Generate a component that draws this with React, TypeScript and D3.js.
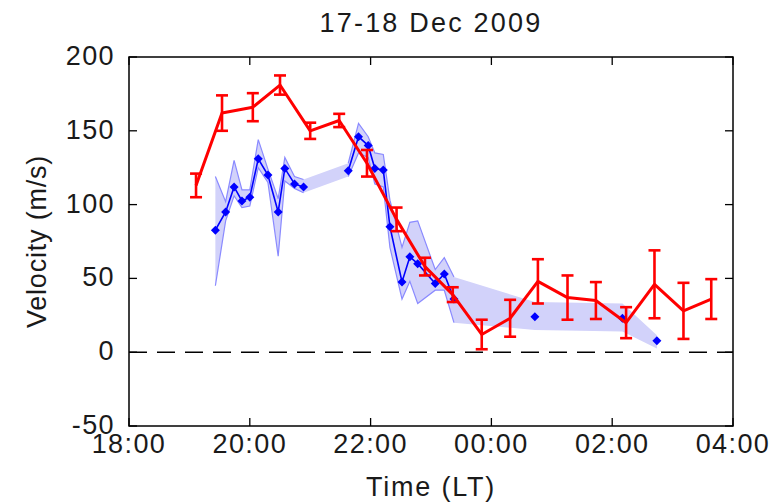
import React from "react";
import * as d3 from "d3";

// ---- data ----
const redTime = [19.11, 19.54, 20.05, 20.5, 21.0, 21.48, 21.94, 22.43, 22.9, 23.36, 23.84, 24.31, 24.77, 25.26, 25.73, 26.23, 26.7, 27.18, 27.64];
const redVel = [113, 162, 166, 181, 150, 157, 128, 90, 58, 39, 12, 23, 48, 37, 35, 20, 46, 28, 36];
const redErr = [8, 12, 9.5, 6.5, 5.5, 4.5, 9, 8, 6, 5, 10, 12.5, 15, 15, 12.5, 10.5, 23, 19, 13.5];

const blueTime = [19.43, 19.6, 19.74, 19.87, 20.0, 20.14, 20.3, 20.47, 20.58, 20.74, 20.89, 21.63, 21.8, 21.96, 22.07, 22.21, 22.32, 22.52, 22.65, 22.78, 23.07, 23.22, 23.38, 24.72, 26.17, 26.74];
const blueVel = [82.7, 95, 112, 102.5, 105, 131, 120, 95, 124.5, 114, 112, 123, 146, 140, 124.5, 123.5, 85, 47.6, 64.6, 60, 46.5, 53, 36, 24, 23, 7.7];
const blueLow = [45, 89, 106, 98, 99, 125, 115, 65, 116, 111, 108, 119, 135, 132, 114, 112, 71, 36, 48, 33, 42, 42, 20, 15, 14, 2.5];
const blueHigh = [119, 102, 130, 110, 110, 144, 124, 104, 132, 119, 117, 128, 155, 146, 135, 134, 103, 71, 88, 89, 56, 64, 51, 34, 33, 11.5];

const xTicks = [18, 20, 22, 24, 26, 28];
const xTickLabels = ["18:00", "20:00", "22:00", "00:00", "02:00", "04:00"];
const yTicks = [-50, 0, 50, 100, 150, 200];

const W = 781;
const H = 503;
const L = 129, R = 733, T = 57, B = 426;
const FONT = "'Liberation Sans', Arial, sans-serif";
const FS = 27;
const LS = 1.4;

function segments(idx: number[], times: number[], gap: number): number[][] {
  const segs: number[][] = [];
  let cur: number[] = [];
  idx.forEach((i, k) => {
    if (k > 0 && times[i] - times[idx[k - 1]] > gap) {
      segs.push(cur);
      cur = [];
    }
    cur.push(i);
  });
  if (cur.length) segs.push(cur);
  return segs;
}

export default function App() {
  const x = d3.scaleLinear().domain([18, 28]).range([L, R]);
  const y = d3.scaleLinear().domain([-50, 200]).range([B, T]);

  const idx = blueTime.map((_, i) => i);
  const band = d3
    .area<number>()
    .x((i) => x(blueTime[i]))
    .y0((i) => y(blueLow[i]))
    .y1((i) => y(blueHigh[i]))(idx) as string;

  const segs = segments(idx, blueTime, 0.4);
  const lineOf = (arr: number[]) =>
    d3
      .line<number>()
      .x((i) => x(blueTime[i]))
      .y((i) => y(arr[i]));

  const redIdx = redTime.map((_, i) => i);
  const redLine = d3
    .line<number>()
    .x((i) => x(redTime[i]))
    .y((i) => y(redVel[i]))(redIdx) as string;

  const tick = 8;
  const cap = 6;
  const textProps = { fontFamily: FONT, fontSize: FS, fill: "#1a1a1a", letterSpacing: LS };

  return (
    <svg width={W} height={H} style={{ position: "absolute", left: 0, top: 0, background: "#fff" }}>
      <rect x={0} y={0} width={W} height={H} fill="#fff" />
      {/* band */}
      <path d={band} fill="#d2d2fa" stroke="none" />
      {segs.map((s, k) => (
        <g key={"bo" + k}>
          <path d={lineOf(blueHigh)(s) as string} fill="none" stroke="#8a8aff" strokeWidth={1.2} />
          <path d={lineOf(blueLow)(s) as string} fill="none" stroke="#8a8aff" strokeWidth={1.2} />
          <path d={lineOf(blueVel)(s) as string} fill="none" stroke="#0000ff" strokeWidth={1.6} />
        </g>
      ))}
      {idx.map((i) => (
        <path
          key={"m" + i}
          transform={`translate(${x(blueTime[i])},${y(blueVel[i])})`}
          d="M0,-4.5L4.5,0L0,4.5L-4.5,0Z"
          fill="#0000ff"
        />
      ))}
      {/* zero line */}
      <line x1={L} x2={R} y1={y(0)} y2={y(0)} stroke="#000" strokeWidth={1.5} strokeDasharray="18 10" />
      {/* red */}
      <path d={redLine} fill="none" stroke="#ff0000" strokeWidth={3} strokeLinejoin="round" />
      {redIdx.map((i) => {
        const cx = x(redTime[i]);
        const y1 = y(redVel[i] + redErr[i]);
        const y2 = y(redVel[i] - redErr[i]);
        return (
          <g key={"e" + i} stroke="#ff0000" strokeWidth={2.6}>
            <line x1={cx} x2={cx} y1={y1} y2={y2} />
            <line x1={cx - cap} x2={cx + cap} y1={y1} y2={y1} />
            <line x1={cx - cap} x2={cx + cap} y1={y2} y2={y2} />
          </g>
        );
      })}
      {/* axes box */}
      <rect x={L} y={T} width={R - L} height={B - T} fill="none" stroke="#000" strokeWidth={1.5} />
      {xTicks.map((t, k) => (
        <g key={"xt" + k}>
          <line x1={x(t)} x2={x(t)} y1={B} y2={B - tick} stroke="#000" strokeWidth={1.3} />
          <line x1={x(t)} x2={x(t)} y1={T} y2={T + tick} stroke="#000" strokeWidth={1.3} />
          <text x={x(t)} y={B + 27} textAnchor="middle" {...textProps}>
            {xTickLabels[k]}
          </text>
        </g>
      ))}
      {yTicks.map((v, k) => (
        <g key={"yt" + k}>
          <line x1={L} x2={L + tick} y1={y(v)} y2={y(v)} stroke="#000" strokeWidth={1.3} />
          <line x1={R} x2={R - tick} y1={y(v)} y2={y(v)} stroke="#000" strokeWidth={1.3} />
          <text x={L - 14} y={y(v) + 8} textAnchor="end" {...textProps}>
            {v}
          </text>
        </g>
      ))}
      <text x={(L + R) / 2} y={32} textAnchor="middle" {...textProps} letterSpacing={2.2}>
        17-18 Dec 2009
      </text>
      <text x={(L + R) / 2} y={496} textAnchor="middle" {...textProps} letterSpacing={1.8}>
        Time (LT)
      </text>
      <text transform={`translate(46,${(T + B) / 2}) rotate(-90)`} textAnchor="middle" {...textProps} letterSpacing={0.8}>
        Velocity (m/s)
      </text>
    </svg>
  );
}
